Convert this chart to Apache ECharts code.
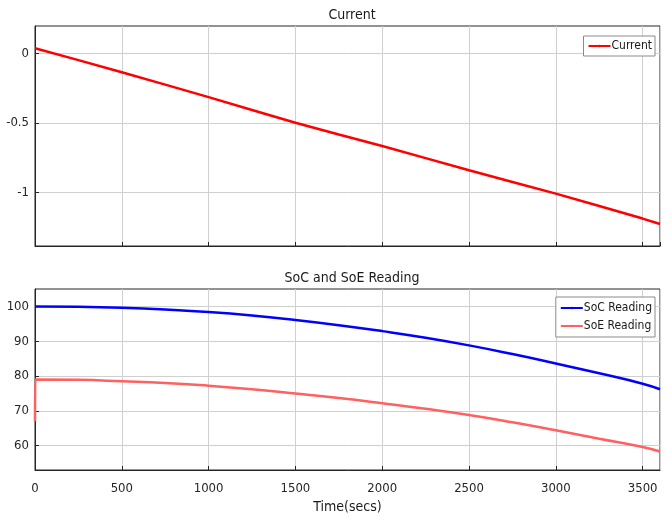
<!DOCTYPE html>
<html><head><meta charset="utf-8">
<script src="https://cdn.jsdelivr.net/npm/echarts@6/dist/echarts.min.js"></script>
<style>html,body{margin:0;padding:0;background:#fff}#c{width:672px;height:523px}</style>
</head><body><div id="c"></div>
<script>
const timeSecs = [0, 250, 500, 750, 1000, 1250, 1500, 1750, 2000, 2250, 2500, 2750, 3000, 3250, 3500, 3600];
const currentVals = [0.035, -0.05, -0.137, -0.226, -0.316, -0.408, -0.5, -0.584, -0.667, -0.754, -0.841, -0.925, -1.009, -1.098, -1.188, -1.227];
const socVals = [100, 99.9, 99.6, 99.1, 98.4, 97.4, 96.1, 94.6, 92.9, 91.0, 88.8, 86.3, 83.6, 80.8, 77.8, 76.2];
const soeTimes = [0, 2, 250, 500, 750, 1000, 1250, 1500, 1750, 2000, 2250, 2500, 2750, 3000, 3250, 3500, 3600];
const soeVals = [67, 79, 78.9, 78.5, 78.0, 77.2, 76.2, 75.0, 73.7, 72.2, 70.6, 68.8, 66.7, 64.4, 62.0, 59.6, 58.3];
const currentTicks = [0, -0.5, -1];
const socTicks = [60, 70, 80, 90, 100];

const FONT = "'Liberation Sans Narrow', 'DejaVu Sans Condensed', 'Liberation Sans', sans-serif";
const zip = (a, b) => a.map((v, i) => [v, b[i]]);

const chart = echarts.init(document.getElementById('c'), null, {renderer: 'canvas'});
const gridLine = {show: true, lineStyle: {color: '#d0d0d0', width: 1}};
const axisLine = {show: true, onZero: false, lineStyle: {color: '#262626', width: 1}};
const tick = {show: true, inside: true, length: 4, lineStyle: {color: '#262626'}};
const lbl = {color: '#262626', fontFamily: FONT, fontSize: 13};

chart.setOption({
  animation: false,
  backgroundColor: '#fff',
  title: [
    {text: 'Current', left: 347, top: 3, textAlign: 'center', textStyle: {fontFamily: FONT, fontSize: 14, fontWeight: 'normal', color: '#1a1a1a'}},
    {text: 'SoC and SoE Reading', left: 347, top: 266, textAlign: 'center', textStyle: {fontFamily: FONT, fontSize: 14, fontWeight: 'normal', color: '#1a1a1a'}}
  ],
  legend: [
    {data: ['Current'], right: 17, top: 36, orient: 'vertical', itemWidth: 22, itemHeight: 3, itemGap: 3, padding: [4, 3, 4, 4],
     backgroundColor: '#fff', borderColor: '#8a8a8a', borderWidth: 1, borderRadius: 0,
     textStyle: {fontFamily: FONT, fontSize: 12, color: '#1a1a1a', padding: [0, 0, 0, -4]}},
    {data: ['SoC Reading', 'SoE Reading'], right: 17, top: 297, orient: 'vertical', itemWidth: 22, itemHeight: 3, itemGap: 6, padding: [5, 3, 5, 4],
     backgroundColor: '#fff', borderColor: '#8a8a8a', borderWidth: 1, borderRadius: 0,
     textStyle: {fontFamily: FONT, fontSize: 12, color: '#1a1a1a', padding: [0, 0, 0, -4]}}
  ],
  grid: [
    {left: 35, right: 12, top: 26, height: 220, show: true, borderColor: '#262626', borderWidth: 1, backgroundColor: 'transparent'},
    {left: 35, right: 12, top: 289, height: 181, show: true, borderColor: '#262626', borderWidth: 1, backgroundColor: 'transparent'}
  ],
  xAxis: [
    {type: 'value', gridIndex: 0, min: 0, max: 3600, interval: 500, axisLine, axisTick: tick, axisLabel: {show: false}, splitLine: gridLine},
    {type: 'value', gridIndex: 1, min: 0, max: 3600, interval: 500, axisLine, axisTick: tick,
     axisLabel: Object.assign({margin: 12, showMaxLabel: false, formatter: v => String(v)}, lbl), splitLine: gridLine,
     name: 'Time(secs)', nameLocation: 'middle', nameGap: 30, nameTextStyle: {fontFamily: FONT, fontSize: 14, color: '#1a1a1a'}}
  ],
  yAxis: [
    {type: 'value', gridIndex: 0, min: -1.385, max: 0.195, axisLine, axisTick: Object.assign({customValues: currentTicks}, tick),
     axisLabel: Object.assign({customValues: currentTicks, margin: 6, formatter: v => String(v)}, lbl), splitLine: gridLine},
    {type: 'value', gridIndex: 1, min: 53, max: 105, axisLine, axisTick: Object.assign({customValues: socTicks}, tick),
     axisLabel: Object.assign({customValues: socTicks, margin: 6}, lbl), splitLine: gridLine}
  ],
  series: [
    {name: 'Current', type: 'line', xAxisIndex: 0, yAxisIndex: 0, data: zip(timeSecs, currentVals), symbol: 'none', smooth: false,
     lineStyle: {color: '#ff0000', width: 2.5}, itemStyle: {color: '#ff0000'}},
    {name: 'SoC Reading', type: 'line', xAxisIndex: 1, yAxisIndex: 1, data: zip(timeSecs, socVals), symbol: 'none', smooth: true,
     lineStyle: {color: '#0000ff', width: 2.5}, itemStyle: {color: '#0000ff'}},
    {name: 'SoE Reading', type: 'line', xAxisIndex: 1, yAxisIndex: 1, data: zip(soeTimes, soeVals), symbol: 'none', smooth: true,
     lineStyle: {color: '#ff6060', width: 2.5}, itemStyle: {color: '#ff6060'}}
  ]
});
</script></body></html>
